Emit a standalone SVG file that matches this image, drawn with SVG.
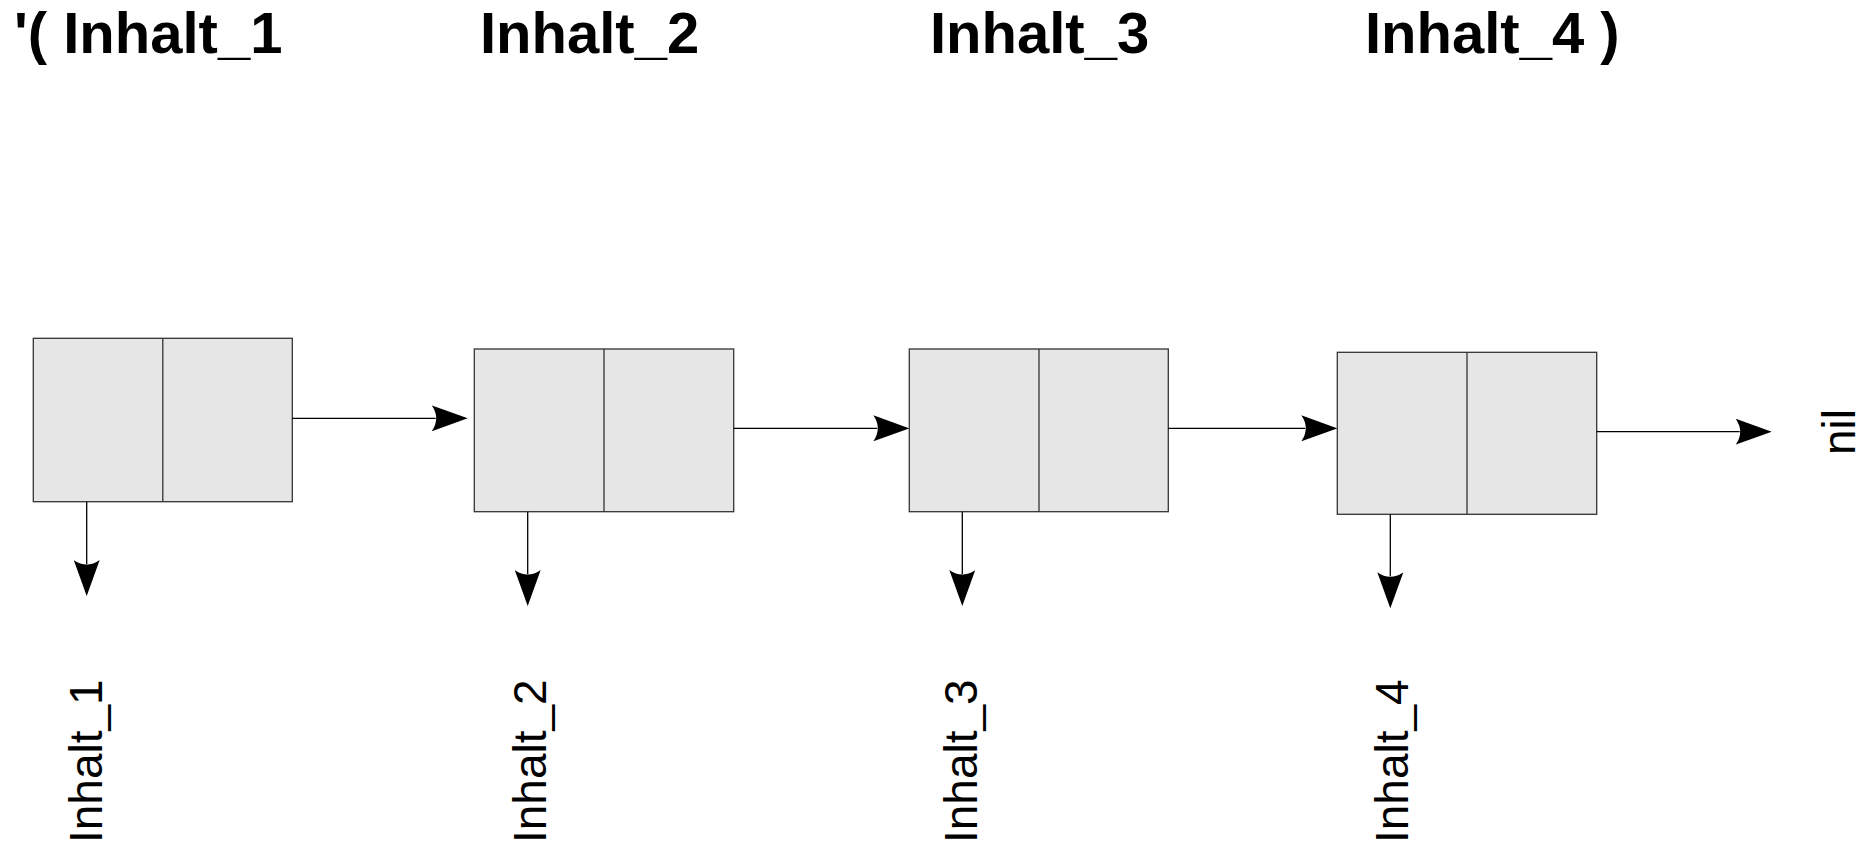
<svg xmlns="http://www.w3.org/2000/svg" width="1873" height="848" viewBox="0 0 1873 848">
<style>
.cell{fill:#e6e6e6;stroke:#333333;stroke-width:1.3}
.div{stroke:#333333;stroke-width:1.3}
.conn{stroke:#000000;stroke-width:1.3;fill:none;marker-end:url(#ah)}
.title{font-family:"Liberation Sans",Arial,sans-serif;font-weight:bold;font-size:58px;fill:#000}
.lbl{font-family:"Liberation Sans",Arial,sans-serif;font-size:46px;fill:#000}
</style>
<defs>
<marker id="ah" viewBox="0 0 36 26" markerWidth="36" markerHeight="26" refX="4" refY="13" orient="auto" markerUnits="userSpaceOnUse">
<path d="M0,0 L36,13 L0,26 Q9,13 0,0 Z" fill="#000"/>
</marker>
</defs>
<rect width="1873" height="848" fill="#ffffff"/>
<g id="titles">
<text class="title" x="14" y="53">'( Inhalt_1</text>
<text class="title" x="480" y="53">Inhalt_2</text>
<text class="title" x="930" y="53">Inhalt_3</text>
<text class="title" x="1365" y="53">Inhalt_4 )</text>
</g>
<g id="node1">
<rect class="cell" x="33.3" y="338.3" width="259" height="163.4"/>
<line class="div" x1="162.8" y1="338.3" x2="162.8" y2="501.7"/>
</g>
<g id="node2">
<rect class="cell" x="474.3" y="349" width="259.4" height="162.7"/>
<line class="div" x1="604" y1="349" x2="604" y2="511.7"/>
</g>
<g id="node3">
<rect class="cell" x="909.3" y="349" width="259" height="162.7"/>
<line class="div" x1="1039" y1="349" x2="1039" y2="511.7"/>
</g>
<g id="node4">
<rect class="cell" x="1337.3" y="352.3" width="259.4" height="162"/>
<line class="div" x1="1467" y1="352.3" x2="1467" y2="514.3"/>
</g>
<g id="connectors">
<line class="conn" x1="292.3" y1="418.3" x2="435.7" y2="418.3"/>
<line class="conn" x1="733.7" y1="428.3" x2="877.3" y2="428.3"/>
<line class="conn" x1="1168.3" y1="428.3" x2="1305.3" y2="428.3"/>
<line class="conn" x1="1596.7" y1="431.7" x2="1739.7" y2="431.7"/>
<line class="conn" x1="86.7" y1="501.7" x2="86.7" y2="564"/>
<line class="conn" x1="527.7" y1="511.7" x2="527.7" y2="574"/>
<line class="conn" x1="962.3" y1="511.7" x2="962.3" y2="574"/>
<line class="conn" x1="1390.3" y1="514.3" x2="1390.3" y2="576.3"/>
</g>
<g id="labels">
<text class="lbl" transform="translate(101.7,843) rotate(-90)">Inhalt_1</text>
<text class="lbl" transform="translate(546,843) rotate(-90)">Inhalt_2</text>
<text class="lbl" transform="translate(977,843) rotate(-90)">Inhalt_3</text>
<text class="lbl" transform="translate(1408,843) rotate(-90)">Inhalt_4</text>
<text class="lbl" text-anchor="middle" transform="translate(1855,432) rotate(-90)">nil</text>
</g>
</svg>
